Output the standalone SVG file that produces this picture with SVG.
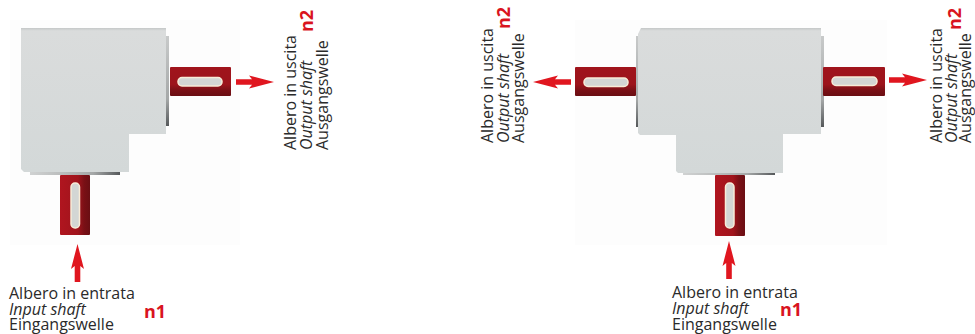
<svg xmlns="http://www.w3.org/2000/svg" width="975" height="334" viewBox="0 0 975 334">
<defs>
<linearGradient id="shH" x1="0" y1="0" x2="0" y2="1"><stop offset="0" stop-color="#a0141c"/><stop offset="0.6" stop-color="#9c141c"/><stop offset="0.8" stop-color="#7a1016"/><stop offset="1" stop-color="#6a0e13"/></linearGradient>
<linearGradient id="shV" x1="0" y1="0" x2="1" y2="0"><stop offset="0" stop-color="#b0151f"/><stop offset="0.6" stop-color="#a0141c"/><stop offset="0.8" stop-color="#7a1016"/><stop offset="1" stop-color="#6a0e13"/></linearGradient>
<linearGradient id="body" x1="0" y1="0" x2="0" y2="1"><stop offset="0" stop-color="#c4c7c7"/><stop offset="0.02" stop-color="#dadcdc"/><stop offset="1" stop-color="#d3d8d8"/></linearGradient>
<linearGradient id="edgeV" x1="0" y1="0" x2="0" y2="1"><stop offset="0" stop-color="#c8caca"/><stop offset="0.7" stop-color="#a5a8a8"/><stop offset="1" stop-color="#55585a"/></linearGradient>
<linearGradient id="edgeH" x1="0" y1="0" x2="1" y2="0"><stop offset="0" stop-color="#d0d2d2"/><stop offset="0.7" stop-color="#a5a8a8"/><stop offset="1" stop-color="#55585a"/></linearGradient>
<path id="arrow" d="M0 -2.8H16L13 -6.5L38 0L13 6.5L16 2.8H0Z"/>
</defs>
<style>
.body{fill:url(#body)}
.edgeV{fill:url(#edgeV)}
.edgeH{fill:url(#edgeH)}
.shH{fill:url(#shH)}
.shV{fill:url(#shV)}
.slot{fill:#d3d6d4;stroke:#f8ecd8;stroke-width:1.5}
.arr{fill:#e0161f}
text{font-family:"Open Sans","Noto Sans","Liberation Sans",sans-serif;font-size:16px;fill:#2a2a2a}
.it{font-style:italic}
.n{font-family:"Open Sans","Liberation Sans",sans-serif;font-weight:700;font-size:18px;fill:#d9141e}
</style>
<rect x="10" y="20" width="230" height="225" fill="#fdfdfd"/>
<rect x="575" y="20" width="312" height="225" fill="#fdfdfd"/>
<g id="gearbox-left">
<rect class="edgeV" x="166" y="36" width="3" height="90"/>
<rect class="edgeH" x="30" y="172" width="90" height="3"/>
<path class="body" d="M21 28H166V134H129V172H24L21 169Z"/>
</g>
<g id="shaft-left-output">
<rect class="shH" x="170" y="67" width="61" height="29" rx="1"/>
<rect class="slot" x="178" y="77.5" width="44" height="8.5" rx="4"/>
</g>
<g id="shaft-left-input">
<rect class="shV" x="60" y="175" width="30" height="60" rx="1"/>
<rect class="slot" x="71" y="183" width="8.5" height="45" rx="4"/>
</g>
<g id="gearbox-right">
<rect class="edgeV" x="636" y="36" width="3" height="91"/>
<rect class="edgeV" x="821" y="36" width="3" height="91"/>
<rect class="edgeH" x="683" y="172" width="92" height="3"/>
<path class="body" d="M641 28H821V134H783V173H678L676 171V135H640L638 133V34Z"/>
</g>
<g id="shaft-right-left">
<rect class="shH" x="575" y="67" width="61" height="29" rx="1"/>
<rect class="slot" x="584" y="78" width="44" height="8.5" rx="4"/>
</g>
<g id="shaft-right-right">
<rect class="shH" x="823" y="67" width="62" height="29" rx="1"/>
<rect class="slot" x="832" y="77" width="45" height="8.5" rx="4"/>
</g>
<g id="shaft-right-input">
<rect class="shV" x="715" y="175" width="30" height="61" rx="1"/>
<rect class="slot" x="725.5" y="183" width="8.5" height="45" rx="4"/>
</g>
<g id="connectors">
<use href="#arrow" class="arr" transform="translate(236 82)"/>
<use href="#arrow" class="arr" transform="translate(77.5 282) rotate(-90)"/>
<use href="#arrow" class="arr" transform="translate(571 82) rotate(180)"/>
<use href="#arrow" class="arr" transform="translate(889 80)"/>
<use href="#arrow" class="arr" transform="translate(729 279) rotate(-90)"/>
</g>
<g id="label-left-input">
<text x="9" y="299">Albero in entrata</text>
<text x="9" y="315" class="it">Input shaft</text>
<text x="9" y="330">Eingangswelle</text>
<text x="144" y="318" class="n">n1</text>
</g>
<g id="label-left-output">
<text transform="translate(296 150) rotate(-90)">Albero in uscita</text>
<text transform="translate(312 150) rotate(-90)" class="it">Output shaft</text>
<text transform="translate(328 150) rotate(-90)">Ausgangswelle</text>
<text transform="translate(313 32) rotate(-90)" class="n">n2</text>
</g>
<g id="label-mid-output">
<text transform="translate(493 143) rotate(-90)">Albero in uscita</text>
<text transform="translate(508.500 143) rotate(-90)" class="it">Output shaft</text>
<text transform="translate(524 143) rotate(-90)">Ausgangswelle</text>
<text transform="translate(510 29) rotate(-90)" class="n">n2</text>
</g>
<g id="label-right-input">
<text x="672" y="298">Albero in entrata</text>
<text x="672" y="314" class="it">Input shaft</text>
<text x="672" y="330">Eingangswelle</text>
<text x="780" y="316" class="n">n1</text>
</g>
<g id="label-right-output">
<text transform="translate(942 143) rotate(-90)">Albero in uscita</text>
<text transform="translate(957 143) rotate(-90)" class="it">Output shaft</text>
<text transform="translate(971 143) rotate(-90)">Ausgangswelle</text>
<text transform="translate(961 30) rotate(-90)" class="n">n2</text>
</g>
</svg>
